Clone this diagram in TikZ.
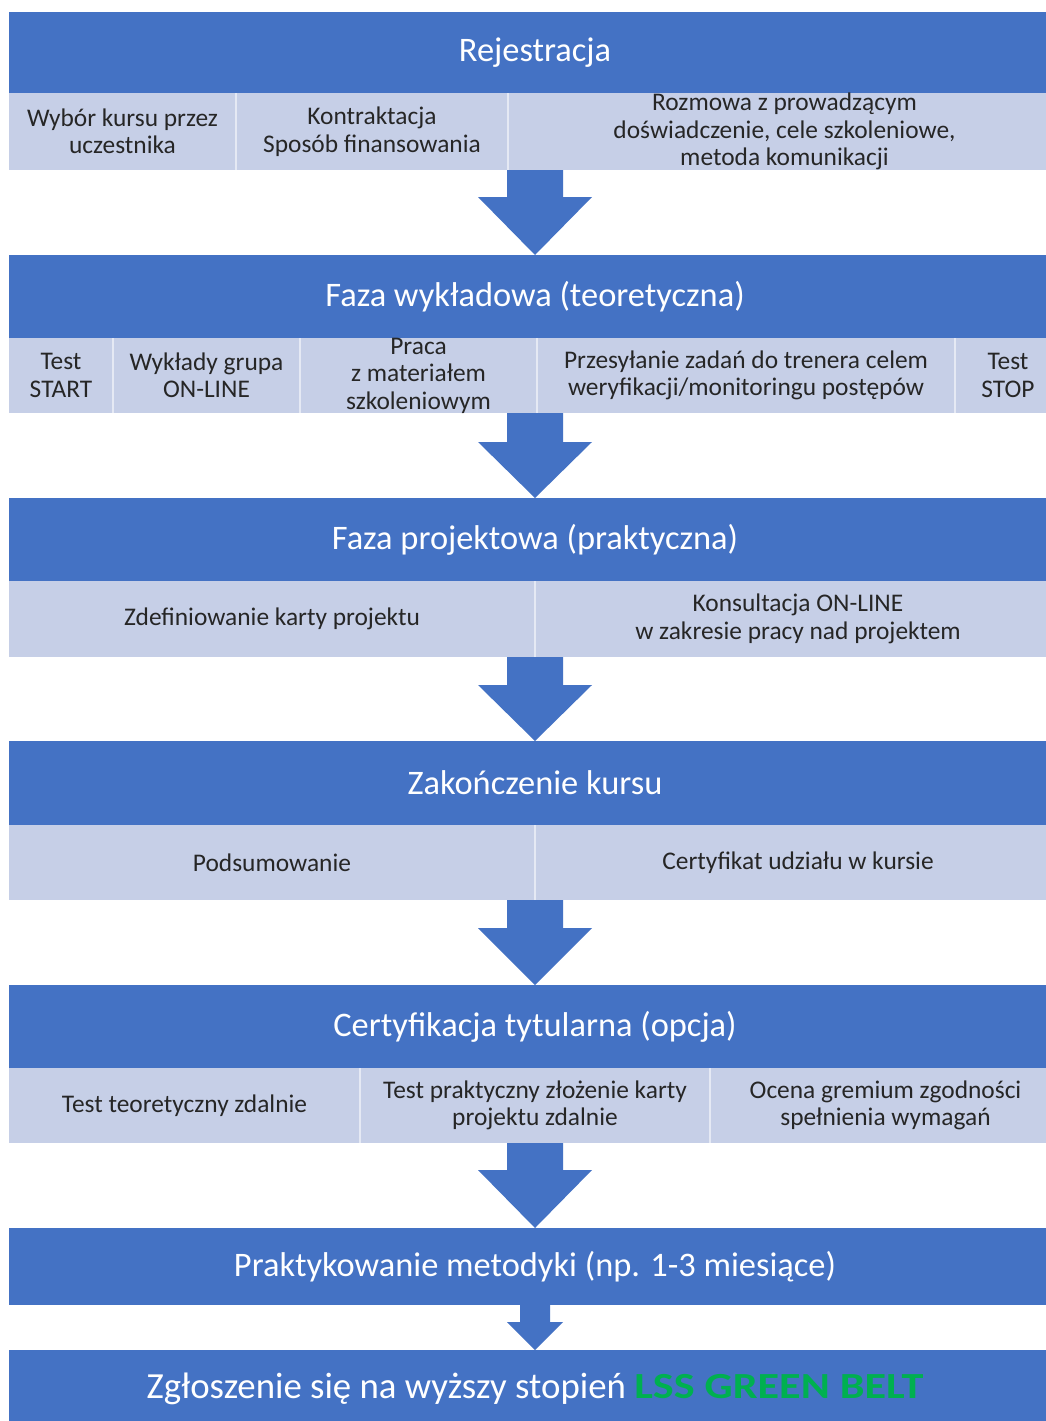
\documentclass[tikz,border=0pt]{standalone}
\usepackage{fontspec}
\usepackage{graphicx}
\setmainfont{Carlito}
\usetikzlibrary{calc}
\definecolor{hblue}{HTML}{4472C4}
\definecolor{subc}{HTML}{C6CFE7}
\definecolor{txtc}{HTML}{262626}
\definecolor{gbelt}{HTML}{00B050}
\newcommand\flowarrow[5]{%
  \fill[arrowfill] let \p1=(#1), \p2=(#2) in
    (535pt-#3,\y1) -- (535pt+#3,\y1) -- (535pt+#3,\y2+#5) -- (535pt+#4,\y2+#5)
    -- (535pt,\y2) -- (535pt-#4,\y2+#5) -- (535pt-#3,\y2+#5) -- cycle;}
\tikzset{
  hdr/.style={fill=hblue, text=white, inner sep=0pt, outer sep=0pt,
    font=\fontsize{34.4}{40}\selectfont, align=center, minimum width=1052pt},
  cell/.style={fill=subc, text=txtc, inner sep=0pt, outer sep=0pt,
    font=\fontsize{25.4}{27.5}\selectfont, align=center},
  divider/.style={draw=white, opacity=0.55, line width=1.5pt},
  arrowfill/.style={fill=hblue}
}
\begin{document}
\begin{tikzpicture}[x=1pt,y=1pt]
\useasboundingbox (0,0) rectangle (1046,-1421);
\fill[white] (0,0) rectangle (1046,-1421);
\clip (0,0) rectangle (1046,-1421);

% Section 1
\node[hdr, minimum height=81pt] (h1) at (535,-52.5) {Rejestracja};
\node[cell, minimum width=227pt, minimum height=77pt] (c11) at (122.5,-131.5) {Wybór kursu przez\\uczestnika};
\node[cell, minimum width=272pt, minimum height=77pt] (c12) at (372,-131.5) {Kontraktacja\\Sposób finansowania};
\node[cell, minimum width=553pt, minimum height=77pt] (c13) at (784.5,-131.5) {Rozmowa z prowadzącym\\doświadczenie, cele szkoleniowe,\\metoda komunikacji};
\draw[divider] (c11.north east) -- (c11.south east);
\draw[divider] (c12.north east) -- (c12.south east);

% Section 2
\node[hdr, minimum height=83pt] (h2) at (535,-296.5) {Faza wykładowa (teoretyczna)};
\node[cell, minimum width=104pt, minimum height=75pt] (c21) at (61,-375.5) {Test\\START};
\node[cell, minimum width=187pt, minimum height=75pt] (c22) at (206.5,-375.5) {Wykłady grupa\\ON-LINE};
\node[cell, minimum width=237pt, minimum height=75pt] (c23) at (418.5,-375.5) {Praca\\z materiałem\\szkoleniowym};
\node[cell, minimum width=418pt, minimum height=75pt] (c24) at (746,-375.5) {Przesyłanie zadań do trenera celem\\weryfikacji/monitoringu postępów};
\node[cell, minimum width=106pt, minimum height=75pt] (c25) at (1008,-375.5) {Test\\STOP};
\draw[divider] (c21.north east) -- (c21.south east);
\draw[divider] (c22.north east) -- (c22.south east);
\draw[divider] (c23.north east) -- (c23.south east);
\draw[divider] (c24.north east) -- (c24.south east);

% Section 3
\node[hdr, minimum height=83pt] (h3) at (535,-539.5) {Faza projektowa (praktyczna)};
\node[cell, minimum width=526pt, minimum height=76pt] (c31) at (272,-619) {Zdefiniowanie karty projektu};
\node[cell, minimum width=526pt, minimum height=76pt] (c32) at (798,-619) {Konsultacja ON-LINE\\w zakresie pracy nad projektem};
\draw[divider] (c31.north east) -- (c31.south east);

% Section 4
\node[hdr, minimum height=84pt] (h4) at (535,-783) {Zakończenie kursu};
\node[cell, minimum width=526pt, minimum height=75pt] (c41) at (272,-862.5) {Podsumowanie};
\node[cell, minimum width=526pt, minimum height=75pt] (c42) at (798,-862.5) {Certyfikat udziału w kursie};
\draw[divider] (c41.north east) -- (c41.south east);

% Section 5
\node[hdr, minimum height=83pt] (h5) at (535,-1026.5) {Certyfikacja tytularna (opcja)};
\node[cell, minimum width=351pt, minimum height=75pt] (c51) at (184.5,-1105.5) {Test teoretyczny zdalnie};
\node[cell, minimum width=350pt, minimum height=75pt] (c52) at (535,-1105.5) {Test praktyczny złożenie karty\\projektu zdalnie};
\node[cell, minimum width=351pt, minimum height=75pt] (c53) at (885.5,-1105.5) {Ocena gremium zgodności\\spełnienia wymagań};
\draw[divider] (c51.north east) -- (c51.south east);
\draw[divider] (c52.north east) -- (c52.south east);

% Section 6
\node[hdr, minimum height=77pt] (h6) at (535,-1266.5) {Praktykowanie metodyki (np. 1-3 miesiące)};

% Section 7
\node[hdr, minimum height=78pt, font=\fontsize{36.8}{42}\selectfont] (h7) at (535,-1389)
  {Zgłoszenie się na wyższy stopień \textcolor{gbelt}{\scalebox{1.2}[1]{\bfseries LSS GREEN BELT}}};

% Block arrows
\flowarrow{c12.south}{h2.north}{28pt}{57pt}{58pt}
\flowarrow{c23.south}{h3.north}{28pt}{57pt}{56pt}
\flowarrow{c31.south}{h4.north}{28pt}{57pt}{56pt}
\flowarrow{c41.south}{h5.north}{28pt}{57pt}{57pt}
\flowarrow{c52.south}{h6.north}{28pt}{57pt}{58pt}
\flowarrow{h6.south}{h7.north}{15pt}{28pt}{28pt}
\end{tikzpicture}
\end{document}
